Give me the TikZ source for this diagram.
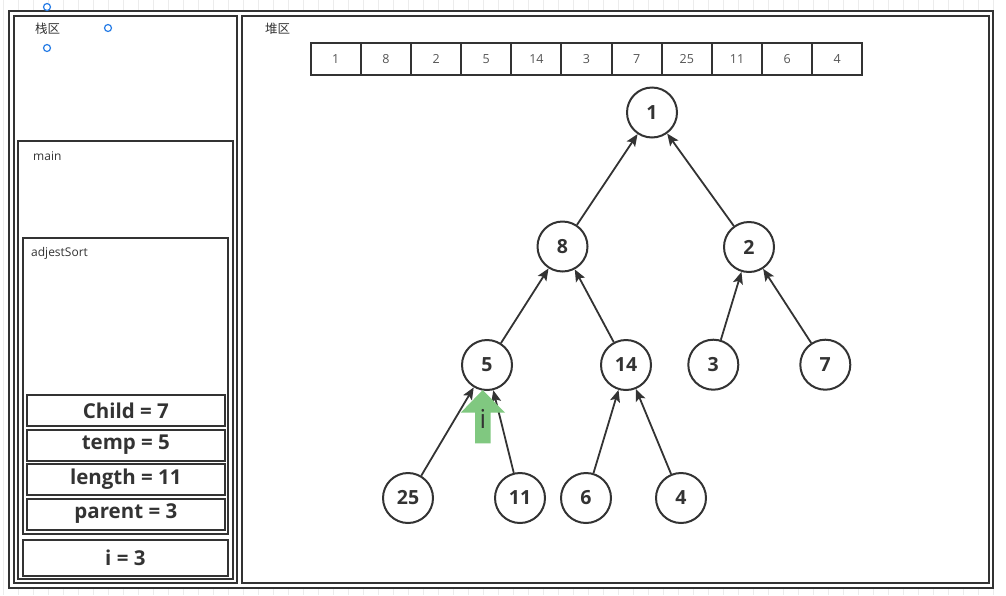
\documentclass[tikz,border=0pt]{standalone}
\usepackage{fontspec}
\setmainfont{Open Sans}
\newfontfamily\cjk{Noto Sans CJK SC}
\usepackage{xcolor}
\usetikzlibrary{arrows.meta,positioning}
\definecolor{ink}{RGB}{51,51,51}
\definecolor{cellgray}{RGB}{85,85,85}
\definecolor{gridgray}{RGB}{236,236,236}
\definecolor{handleblue}{RGB}{40,125,230}
\definecolor{ptrgreen}{RGB}{128,200,128}

\begin{document}
\begin{tikzpicture}[
        x=1pt, y=-1pt,
        frame/.style={draw=ink, line width=2pt, fill=white, inner sep=0pt, outer sep=0pt},
        varbox/.style={frame, minimum width=198pt, minimum height=31pt, font=\fontsize{20.5}{20.5}\selectfont\bfseries, text=ink},
        cell/.style={draw=ink, line width=2pt, inner sep=0pt, outer sep=0pt, minimum width=50.15pt, minimum height=31.7pt, font=\fontsize{12.5}{12.5}\selectfont, text=cellgray},
        knot/.style={circle, draw=ink, line width=2pt, fill=white, minimum size=50pt, inner sep=0pt, font=\fontsize{19.5}{19.5}\selectfont\bfseries, text=ink},
        arrow/.style={-{Stealth[length=12pt,width=10pt,inset=2.5pt]}, line width=1.8pt, draw=ink},
        lbl/.style={anchor=west, inner sep=0pt, font=\fontsize{12}{12}\selectfont, text=ink},
        handle/.style={circle, draw=handleblue, fill=white, line width=1.2pt, minimum size=7pt, inner sep=0pt}
    ]
        \useasboundingbox (0,0) rectangle (1006,595);
        % background grid
        \begin{scope}[shift={(3,10)}]
            \draw[gridgray, line width=1pt, step=15] (-3,-10) grid (1003,585);
        \end{scope}

        % frames
        \node[frame, minimum width=984pt, minimum height=576.5pt] (outer) at (501,299.25) {};
        \node[frame, minimum width=223pt, minimum height=566.5pt] (stack) at (125.5,299.25) {};
        \node[frame, minimum width=747pt, minimum height=566.5pt] (heap) at (615.5,299.25) {};
        \node[frame, minimum width=214.4pt, minimum height=438.3pt] (main) at (125.5,359.85) {};
        \node[frame, minimum width=205.3pt, minimum height=296.3pt] (adj) at (125.35,386.15) {};
        \node[lbl, font=\fontsize{12.5}{12.5}\cjk] (stklbl) at (35,29) {栈区};
        \node[lbl, font=\fontsize{12.5}{12.5}\cjk] (heaplbl) at (265,29) {堆区};
        \node[lbl] (mainlbl) at (33,156) {main};
        \node[lbl] (adjlbl) at (31,253) {adjestSort};

        % locals of adjestSort
        \node[varbox] (child) at (125.85,410.5) {Child = 7};
        \node[varbox, below=3.5pt of child] (temp) {temp = 5};
        \node[varbox, below=3.5pt of temp] (len) {length = 11};
        \node[varbox, below=3.5pt of len] (par) {parent = 3};
        \node[varbox, minimum width=205.3pt, minimum height=35.7pt] (ivar) at (125.35,557.85) {i = 3};

        % handles
        \node[handle] (h1) at (47,7) {};
        \node[handle] (h2) at (108,28) {};
        \node[handle] (h3) at (47,48) {};

        % array
        \node[cell] (a1) at (335.8,59.15) {1};
        \node[cell, right=0pt of a1] (a2) {8};
        \node[cell, right=0pt of a2] (a3) {2};
        \node[cell, right=0pt of a3] (a4) {5};
        \node[cell, right=0pt of a4] (a5) {14};
        \node[cell, right=0pt of a5] (a6) {3};
        \node[cell, right=0pt of a6] (a7) {7};
        \node[cell, right=0pt of a7] (a8) {25};
        \node[cell, right=0pt of a8] (a9) {11};
        \node[cell, right=0pt of a9] (a10) {6};
        \node[cell, right=0pt of a10] (a11) {4};

        % heap tree
        \node[knot] (n1) at (652,112.5) {1};
        \node[knot] (n8) at (562.5,246.5) {8};
        \node[knot] (n2) at (749,247) {2};
        \node[knot] (n5) at (487,365) {5};
        \node[knot] (n14) at (626,365) {14};
        \node[knot] (n3) at (713.3,364.7) {3};
        \node[knot] (n7) at (825.3,364.7) {7};
        \node[knot] (n25) at (408,498) {25};
        \node[knot] (n11) at (520,498) {11};
        \node[knot] (n6) at (586,498) {6};
        \node[knot] (n4) at (681,498) {4};
        \draw[arrow] (n8) -- (n1);
        \draw[arrow] (n2) -- (n1);
        \draw[arrow] (n5) -- (n8);
        \draw[arrow] (n14) -- (n8);
        \draw[arrow] (n3) -- (n2);
        \draw[arrow] (n7) -- (n2);
        \draw[arrow] (n25) -- (n5);
        \draw[arrow] (n11) -- (n5);
        \draw[arrow] (n6) -- (n14);
        \draw[arrow] (n4) -- (n14);

        % pointer i
        \fill[ptrgreen] (460.7,412.7) -- (482.7,390) -- (505,412.7) -- (490.7,412.7) -- (490.7,443.3) -- (475,443.3) -- (475,412.7) -- cycle;
        \node[font=\fontsize{26}{26}\selectfont, text=ink, inner sep=0pt] (iptr) at (483,419) {i};
    \end{tikzpicture}
\end{document}
